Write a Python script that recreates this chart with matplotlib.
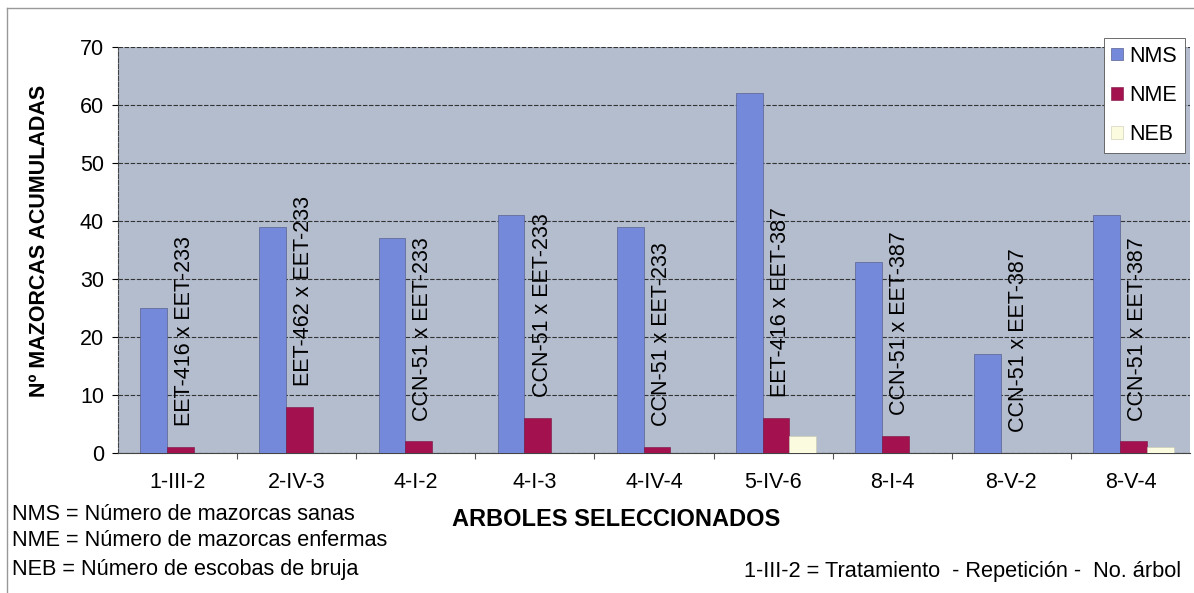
import numpy as np
import matplotlib
matplotlib.use("Agg")
from matplotlib import pyplot as plt
from matplotlib.lines import Line2D

plt.rcParams['font.family'] = ['Liberation Sans', 'DejaVu Sans']

# data
arboles = ['1-III-2', '2-IV-3', '4-I-2', '4-I-3', '4-IV-4', '5-IV-6', '8-I-4', '8-V-2', '8-V-4']
nms = [25, 39, 37, 41, 39, 62, 33, 17, 41]
nme = [1, 8, 2, 6, 1, 6, 3, 0, 2]
neb = [0, 0, 0, 0, 0, 3, 0, 0, 1]
cruces = ['EET-416 x EET-233', 'EET-462 x EET-233', 'CCN-51 x EET-233',
          'CCN-51 x EET-233', 'CCN-51 x EET-233', 'EET-416 x EET-387',
          'CCN-51 x EET-387', 'CCN-51 x EET-387', 'CCN-51 x EET-387']

fig = plt.figure(figsize=(11.94, 5.93), dpi=100)
ax = fig.add_axes([118/1194, 1-453/593, 1072/1194, 406/593])
ax.set_facecolor('#b4bdce')

x = np.arange(len(arboles))
w = 0.225
ax.bar(x - 0.2, nms, w, color='#7489d9', edgecolor='#5a6290', linewidth=0.5, label='NMS', zorder=3)
ax.bar(x + 0.025, nme, w, color='#a3124e', edgecolor='#7a1040', linewidth=0.4, label='NME', zorder=3)
ax.bar(x + 0.25, neb, w, color='#fbfbe0', edgecolor='#c8c8b0', linewidth=0.4, label='NEB', zorder=3)

# cross labels above the NME bars
for i in range(len(arboles)):
    ax.annotate(cruces[i], (x[i] + 0.06, nme[i]), xytext=(0, 15), textcoords='offset points',
                rotation=90, ha='center', va='bottom', fontsize=15.5, zorder=4)

ax.set_xlim(-0.5, len(arboles) - 0.5)
ax.set_ylim(0, 70)
ax.set_yticks(range(0, 71, 10))
ax.tick_params(axis='y', labelsize=15.5, length=4, width=0.8, pad=6)
ax.set_xticks(x)
ax.set_xticklabels(arboles, fontsize=15.5)
ax.tick_params(axis='x', length=0, pad=14)
ax.set_xticks(np.arange(0.5, len(arboles) - 0.5, 1), minor=True)
ax.tick_params(axis='x', which='minor', length=4, width=0.8, color='#555555')

ax.grid(axis='y', color='#333333', linewidth=0.8, linestyle=(0, (4, 1.5)), zorder=1)
for s in ['top', 'right']:
    ax.spines[s].set_visible(False)
ax.spines['left'].set_color('#444444')
ax.spines['left'].set_linestyle((0, (4, 1.5)))
ax.spines['bottom'].set_color('#444444')

fig.text(40/1194, 1-241/593, 'Nº MAZORCAS ACUMULADAS', fontsize=15.5, fontweight='bold',
         rotation=90, ha='center', va='center')

leg = ax.legend(loc='upper right', bbox_to_anchor=(0.995, 1.022), fontsize=15.5,
                handlelength=0.55, handleheight=0.55, handletextpad=0.3,
                labelspacing=0.85, borderpad=0.35, borderaxespad=0, fancybox=False,
                framealpha=1, facecolor='white', edgecolor='#555555')
leg.get_frame().set_linewidth(0.6)

fig.text(616/1194, 1-520/593, 'ARBOLES SELECCIONADOS', fontsize=17, fontweight='bold',
         ha='center', va='center')
fig.text(12/1194, 1-514/593, 'NMS = Número de mazorcas sanas', fontsize=15.6, va='center')
fig.text(12/1194, 1-541/593, 'NME = Número de mazorcas enfermas', fontsize=15.6, va='center')
fig.text(12/1194, 1-569/593, 'NEB = Número de escobas de bruja', fontsize=15.6, va='center')
fig.text(1181/1194, 1-572/593, '1-III-2 = Tratamiento  - Repetición -  No. árbol', fontsize=15.7,
         ha='right', va='center')

# outer chart frame
fig.add_artist(Line2D([7/1194, 1], [1-8/593, 1-8/593], color='#999999', linewidth=1))
fig.add_artist(Line2D([7/1194, 7/1194], [0, 1-8/593], color='#999999', linewidth=1))

fig.savefig('out.png', dpi=100)
